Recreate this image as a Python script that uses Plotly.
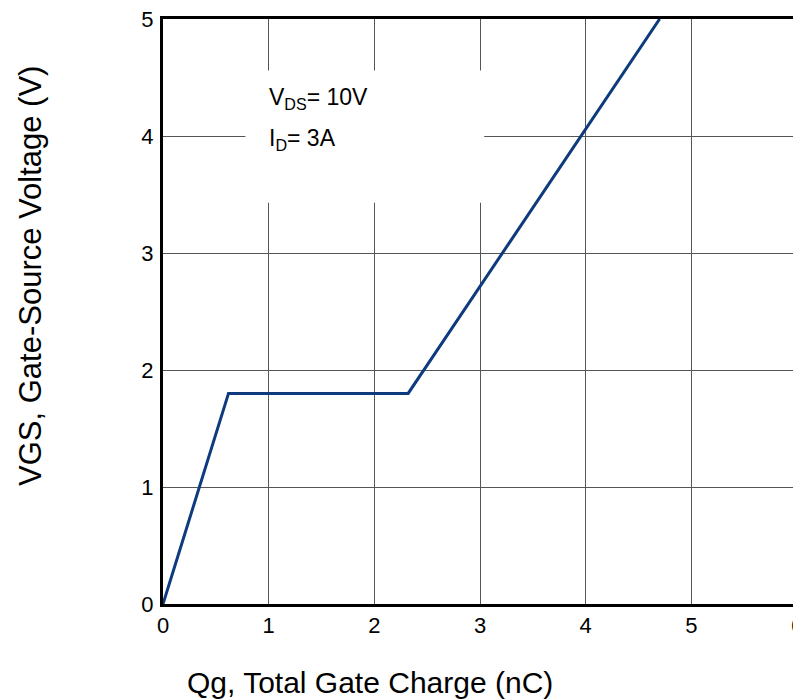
import plotly.graph_objects as go

qg_nc = [0.0, 0.62, 2.32, 4.70]
vgs_v = [0.0, 1.80, 1.80, 5.00]
x_ticks = [0, 1, 2, 3, 4, 5, 6]
y_ticks = [0, 1, 2, 3, 4, 5]

FONT = "Liberation Sans, Arial"

fig = go.Figure()
fig.add_trace(go.Scatter(x=qg_nc, y=vgs_v, mode="lines",
                         line=dict(color="#0d3b7d", width=3), showlegend=False))

axis_common = dict(showline=True, linecolor="black", linewidth=3, mirror=True,
                   showgrid=True, gridcolor="#555555", gridwidth=1,
                   zeroline=False, ticks="", automargin=False,
                   ticklabeloverflow="allow",
                   tickfont=dict(family=FONT, size=22, color="black"))
fig.update_xaxes(range=[0, 6], tickvals=x_ticks, ticklabelstandoff=0, **axis_common)
fig.update_yaxes(range=[0, 5], tickvals=y_ticks, ticklabelstandoff=2, **axis_common)

# white box behind the conditions text, covering the grid
fig.add_shape(type="rect", xref="x", yref="y", x0=0.78, x1=3.04, y0=3.43, y1=4.56,
              fillcolor="white", line=dict(width=0), layer="between")

fig.add_annotation(x=0.98, y=4.32, xref="x", yref="y", xanchor="left", yanchor="middle",
                   text="V<sub>DS</sub>= 10V", showarrow=False,
                   font=dict(family=FONT, size=23, color="black"))
fig.add_annotation(x=0.98, y=3.97, xref="x", yref="y", xanchor="left", yanchor="middle",
                   text="I<sub>D</sub>= 3A", showarrow=False,
                   font=dict(family=FONT, size=23, color="black"))

# plot area in page pixels: left 163, right 797, top 19, bottom 604
PW, PH = 797 - 163, 604 - 19
fig.add_annotation(x=(370 - 163) / PW, y=-(682 - 604) / PH, xref="paper", yref="paper",
                   text="Qg, Total Gate Charge (nC)", showarrow=False,
                   xanchor="center", yanchor="middle",
                   font=dict(family=FONT, size=30, color="black"))
fig.add_annotation(x=-(163 - 30) / PW, y=(604 - 276) / PH, xref="paper", yref="paper",
                   text="VGS, Gate-Source Voltage (V)", textangle=-90, showarrow=False,
                   xanchor="center", yanchor="middle",
                   font=dict(family=FONT, size=31, color="black"))

# page body has an 8px margin, so the figure is offset by 8px
fig.update_layout(width=793, height=692, margin=dict(l=155, r=4, t=11, b=96),
                  paper_bgcolor="white", plot_bgcolor="white",
                  font=dict(family=FONT, color="black"))
fig.write_html("out.html")
